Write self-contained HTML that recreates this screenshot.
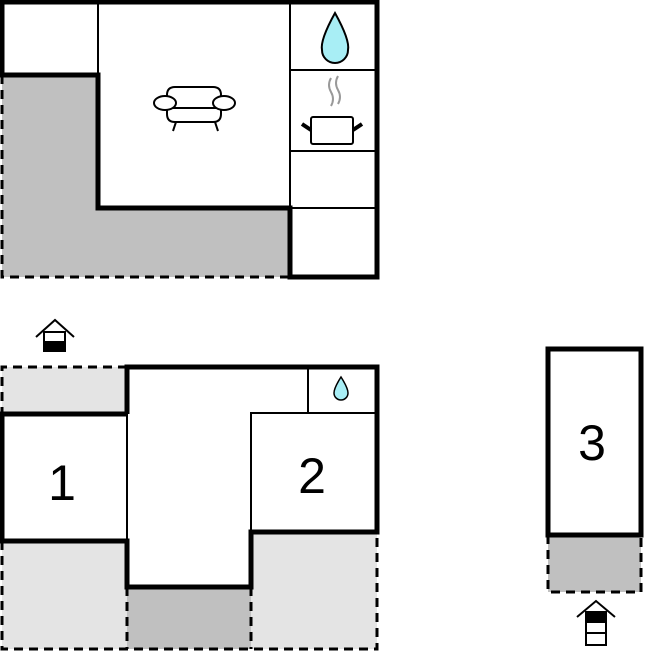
<!DOCTYPE html>
<html><head><style>body{margin:0;background:#fff}svg{display:block}text{font-family:"Liberation Sans",sans-serif}</style></head><body>
<svg width="645" height="652" viewBox="0 0 645 652" xmlns="http://www.w3.org/2000/svg">
<!-- TOP BLOCK -->
<path d="M2,75 H98 V208 H290 V277 H2 Z" fill="#c0c0c0"/>
<path d="M2,75 V277 H290" fill="none" stroke="#000" stroke-width="3" stroke-dasharray="9,6"/>
<path d="M2,75 V2 H377 V277 H290 V208 H98 V75 Z" fill="none" stroke="#000" stroke-width="5"/>
<path d="M98,2 V75 M290,2 V208 M290,70 H377 M290,151 H377 M290,208 H377" fill="none" stroke="#000" stroke-width="2"/>
<!-- sofa -->
<g fill="#fff" stroke="#000" stroke-width="2">
<path d="M167,108 V95 Q167,87 175,87 H213 Q221,87 221,95 V108 Z"/>
<path d="M167,108 H221 V114 Q221,122 213,122 H175 Q167,122 167,114 Z"/>
<ellipse cx="165" cy="103" rx="11" ry="7"/>
<ellipse cx="224" cy="103" rx="11" ry="7"/>
<path d="M176,122 L173,131 M215,122 L218,131" fill="none"/>
</g>
<!-- drop -->
<path d="M335,13 Q350,40 348,50 A13,13 0 0 1 322,50 Q320,40 335,13 Z" fill="#a8eef5" stroke="#000" stroke-width="2"/>
<!-- pot -->
<path d="M331,78 q-4,7 0,14 q4,7 0,14 M338,76 q-4,7 0,14 q4,7 0,14" fill="none" stroke="#999" stroke-width="2"/>
<rect x="311" y="117" width="42" height="27" rx="2" fill="#fff" stroke="#000" stroke-width="2"/>
<path d="M302,124 L311,130 M362,124 L353,130" stroke="#000" stroke-width="4"/>
<!-- entrance icon top -->
<g stroke="#000" stroke-width="2" fill="#fff">
<path d="M36,337 L55,320 L74,337" fill="none"/>
<rect x="44" y="332" width="21" height="19"/>
<rect x="44" y="342" width="21" height="9" fill="#000"/>
</g>
<!-- BOTTOM BLOCK -->
<rect x="2" y="367" width="125" height="47" fill="#e4e4e4"/>
<rect x="2" y="541" width="125" height="108" fill="#e4e4e4"/>
<rect x="251" y="532" width="126" height="117" fill="#e4e4e4"/>
<rect x="127" y="587" width="124" height="62" fill="#c0c0c0"/>
<path d="M127,367 H2 V414 M2,541 V649 H377 V532 M127,587 V649 M251,587 V649" fill="none" stroke="#000" stroke-width="3" stroke-dasharray="9,6"/>
<path d="M127,414 V367 H377 V532 H251 V587 H127 V541 H2 V414 H127" fill="none" stroke="#000" stroke-width="5"/>
<path d="M127,414 V541 M251,532 V413 H377 M308,367 V413" fill="none" stroke="#000" stroke-width="2"/>
<path d="M341,377 Q348,388 348,393 A7,7 0 0 1 334,393 Q334,388 341,377 Z" fill="#a8eef5" stroke="#000" stroke-width="1.5"/>
<text x="62" y="500" font-size="50" text-anchor="middle">1</text>
<text x="312" y="493" font-size="50" text-anchor="middle">2</text>
<!-- ROOM 3 -->
<rect x="548" y="535" width="93" height="57" fill="#c0c0c0"/>
<path d="M548,535 V592 H641 V535" fill="none" stroke="#000" stroke-width="3" stroke-dasharray="9,6"/>
<rect x="548" y="349" width="93" height="186" fill="#fff" stroke="#000" stroke-width="5"/>
<text x="592" y="460" font-size="50" text-anchor="middle">3</text>
<g stroke="#000" stroke-width="2" fill="#fff">
<path d="M577,617 L596,601 L615,617" fill="none"/>
<rect x="586" y="612" width="20" height="33"/>
<rect x="586" y="612" width="20" height="10" fill="#000"/>
<path d="M586,633 H606"/>
</g>
</svg>
</body></html>
